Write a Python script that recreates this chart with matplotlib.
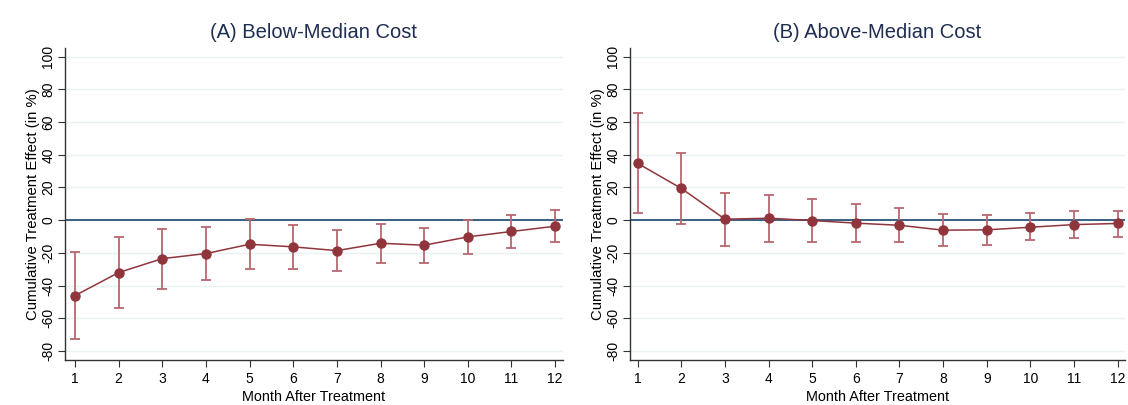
import numpy as np
import matplotlib.pyplot as plt

# Months after treatment
months = np.arange(1, 13)

# (A) Below-median cost: point estimates and 95% CI bounds
below_est = [-46.1, -32.0, -23.5, -20.4, -14.7, -16.3, -18.6, -14.1, -15.3, -10.2, -6.9, -3.7]
below_lo = [-72.9, -53.9, -41.8, -36.7, -29.6, -29.6, -30.8, -25.9, -26.3, -20.6, -16.9, -13.5]
below_hi = [-19.4, -10.2, -5.1, -4.1, 0.6, -3.1, -6.3, -2.4, -4.5, 0.4, 2.9, 6.1]

# (B) Above-median cost
above_est = [34.7, 19.4, 0.6, 1.2, -0.2, -1.8, -3.1, -6.1, -5.9, -4.3, -2.7, -2.0]
above_lo = [4.1, -2.2, -15.9, -13.1, -13.1, -13.5, -13.3, -15.7, -14.9, -12.4, -10.8, -10.0]
above_hi = [65.5, 41.2, 16.9, 15.7, 12.7, 9.8, 7.6, 3.5, 3.3, 4.5, 5.5, 5.7]

titles = ["(A) Below-Median Cost", "(B) Above-Median Cost"]
yticks = np.arange(-80, 101, 20)

plt.rcParams['font.family'] = ['Liberation Sans', 'DejaVu Sans']

fig = plt.figure(figsize=(11.28, 4.05), dpi=100)
ax_a = fig.add_axes([0.0576, 0.111, 0.4415, 0.771])
ax_b = fig.add_axes([0.5585, 0.111, 0.4388, 0.771])

maroon = '#90353b'
navy = '#1a476f'

panels = [
    (ax_a, below_est, below_lo, below_hi, (0.77, 12.18)),
    (ax_b, above_est, above_lo, above_hi, (0.82, 12.17)),
]

for (ax, est, lo, hi, xl), title in zip(panels, titles):
    est = np.array(est)
    err = [est - np.array(lo), np.array(hi) - est]
    for y in yticks:
        ax.axhline(y, color='#eaf2f3', lw=1.0, zorder=0)
    ax.axhline(0, color=navy, lw=1.2, zorder=1)
    ax.errorbar(months, est, yerr=err, fmt='none', ecolor='#b8686e',
                elinewidth=1.3, capsize=3.5, capthick=1.3, zorder=2)
    ax.plot(months, est, color=maroon, lw=1.1, marker='o', ms=6.5,
            mfc=maroon, mec=maroon, zorder=3)
    ax.set_xlim(*xl)
    ax.set_ylim(-85.5, 105.4)
    ax.set_xticks(months)
    ax.set_yticks(yticks)
    ax.set_yticklabels([str(v) for v in yticks], rotation=90, va='center')
    ax.tick_params(axis='both', labelsize=10, length=5, color='#333333')
    ax.tick_params(axis='y', pad=2)
    for s in ['top', 'right']:
        ax.spines[s].set_visible(False)
    for s in ['left', 'bottom']:
        ax.spines[s].set_color('#333333')
        ax.spines[s].set_linewidth(1.0)
    ax.set_xlabel("Month After Treatment", fontsize=10.4, labelpad=3)
    ax.set_ylabel("Cumulative Treatment Effect (in %)", fontsize=10.7, labelpad=1)
    ax.set_title(title, fontsize=14.5, color='#1e2d52', pad=7)

fig.savefig("out.png", dpi=100)
